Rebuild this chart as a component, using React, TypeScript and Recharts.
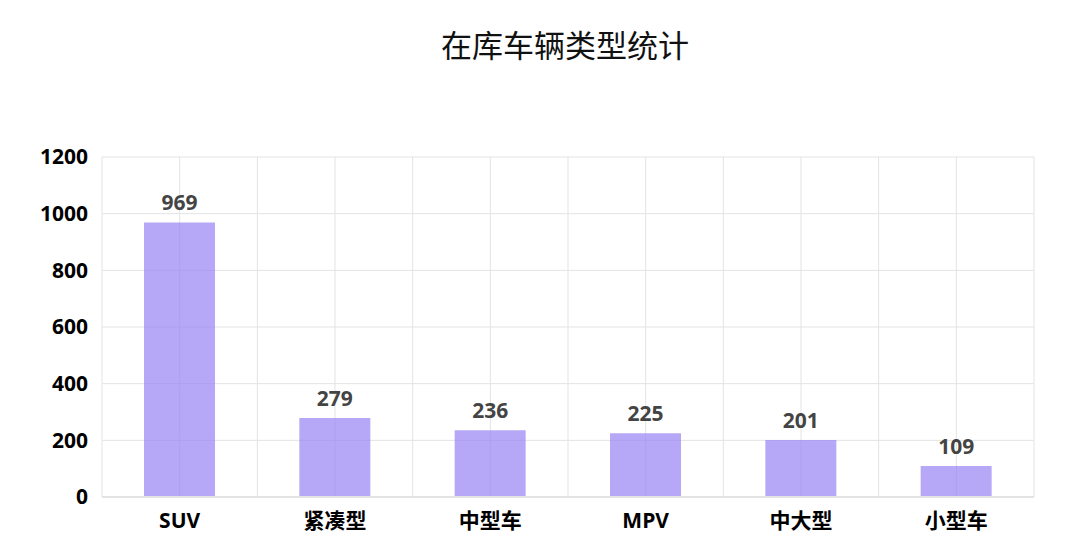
import { BarChart, Bar, XAxis, YAxis, CartesianGrid, LabelList } from 'recharts'

const categories = ['SUV', '紧凑型', '中型车', 'MPV', '中大型', '小型车']
const counts = [969, 279, 236, 225, 201, 109]
const yTicks = [0, 200, 400, 600, 800, 1000, 1200]

const data = categories.map((name, i) => ({ name, count: counts[i] }))

const FONT = '"Open Sans", "Noto Sans CJK SC", sans-serif'

// grid lines at band centres and band edges
const verticalLines = ({ offset }: any) => {
  const step = offset.width / categories.length
  const pts: number[] = []
  for (let i = 0; i <= categories.length * 2; i++) pts.push(offset.left + (step / 2) * i)
  return pts
}

export default function App() {
  return (
    <div style={{ position: 'absolute', left: 0, top: 0, width: 1080, height: 551, background: '#fff' }}>
      <div
        style={{
          position: 'absolute',
          top: 22,
          width: 1080,
          textAlign: 'center',
          fontFamily: '"Noto Sans CJK SC", sans-serif',
          fontSize: 31,
          lineHeight: '44px',
          color: '#111',
          paddingLeft: 50,
          boxSizing: 'border-box',
        }}
      >
        在库车辆类型统计
      </div>
      <BarChart
        width={1080}
        height={551}
        data={data}
        margin={{ top: 157, right: 46, bottom: 24, left: 2 }}
        barSize={71}
      >
        <CartesianGrid stroke="#e3e3e3" verticalCoordinatesGenerator={verticalLines} />
        <XAxis
          dataKey="name"
          height={30}
          tickLine={false}
          axisLine={{ stroke: '#e3e3e3', strokeWidth: 2 }}
          tickMargin={10}
          tick={{ fill: '#000', fontSize: 21, fontWeight: 700, fontFamily: FONT }}
        />
        <YAxis
          domain={[0, 1200]}
          ticks={yTicks}
          width={100}
          tickLine={false}
          axisLine={false}
          tickMargin={8}
          tick={{ fill: '#000', fontSize: 21, fontWeight: 700, fontFamily: FONT }}
        />
        <Bar dataKey="count" fill="#9783f2" fillOpacity={0.7} isAnimationActive={false}>
          <LabelList
            dataKey="count"
            position="top"
            offset={12}
            style={{ fill: '#444', fontSize: 21, fontWeight: 700, fontFamily: FONT }}
          />
        </Bar>
      </BarChart>
    </div>
  )
}
